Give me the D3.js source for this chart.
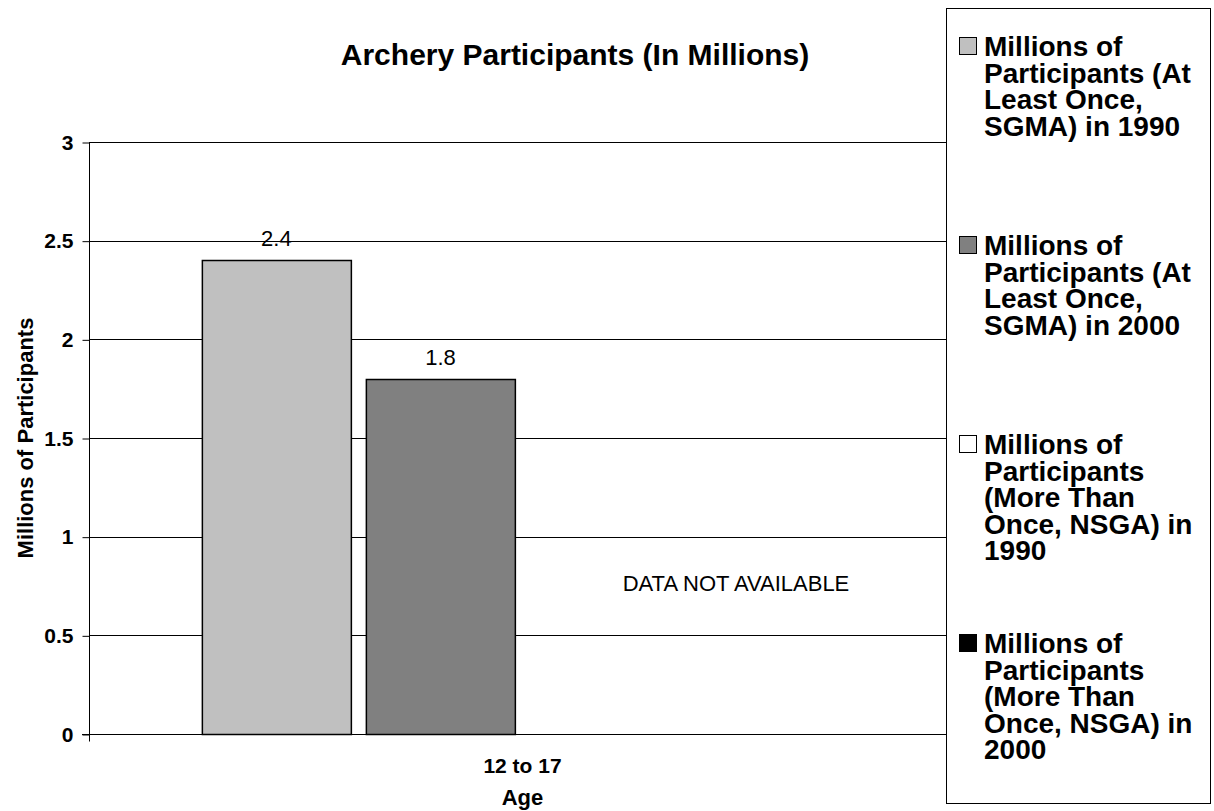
<!DOCTYPE html>
<meta charset="utf-8">
<style>
body { margin: 0; background: #fff; }
svg { display: block; }
text { font-family: Arial, "Liberation Sans", Helvetica, sans-serif; fill: #000; }
.tick-label { font-size: 21px; font-weight: bold; }
.axis-title { font-size: 22px; font-weight: bold; }
.title { font-size: 30px; font-weight: bold; }
.value { font-size: 22px; }
.legend-text { font-size: 28px; font-weight: bold; }
</style>
<svg width="1214" height="811"></svg>
<script src="https://cdn.jsdelivr.net/npm/d3@7"></script>
<script>

// data
var categories = ["12 to 17"];
var seriesNames = [
  "Millions of Participants (At Least Once, SGMA) in 1990",
  "Millions of Participants (At Least Once, SGMA) in 2000",
  "Millions of Participants (More Than Once, NSGA) in 1990",
  "Millions of Participants (More Than Once, NSGA) in 2000"
];
var seriesValues = [2.4, 1.8, null, null];
var seriesColors = ["#c0c0c0", "#808080", "#ffffff", "#000000"];
var legendLines = [
  ["Millions of", "Participants (At", "Least Once,", "SGMA) in 1990"],
  ["Millions of", "Participants (At", "Least Once,", "SGMA) in 2000"],
  ["Millions of", "Participants", "(More Than", "Once, NSGA) in", "1990"],
  ["Millions of", "Participants", "(More Than", "Once, NSGA) in", "2000"]
];
var yTicks = [0, 0.5, 1, 1.5, 2, 2.5, 3];

var svg = d3.select("svg"),
    plot = {left: 89, right: 956, top: 142, bottom: 734};

var y = d3.scaleLinear().domain([0, 3]).range([plot.bottom, plot.top]);

var x0 = d3.scaleBand()
    .domain(categories)
    .range([plot.left, plot.right])
    .paddingInner(0)
    .paddingOuter(0.176);

var x1 = d3.scaleBand()
    .domain(d3.range(seriesNames.length))
    .range([0, x0.bandwidth()])
    .paddingInner(0.0915)
    .paddingOuter(0);

// gridlines
svg.append("g")
  .selectAll("line")
  .data(yTicks.filter(function(d) { return d > 0; }))
  .enter().append("line")
    .attr("x1", plot.left).attr("x2", plot.right)
    .attr("y1", function(d) { return Math.round(y(d)) + 0.5; })
    .attr("y2", function(d) { return Math.round(y(d)) + 0.5; })
    .attr("stroke", "#000").attr("stroke-width", 1);

// y axis
var yAxis = svg.append("g")
    .attr("transform", "translate(" + (plot.left + 0.5) + ",0.5)")
    .call(d3.axisLeft(y).tickValues(yTicks).tickSize(7).tickPadding(9)
      .tickFormat(function(d) { return d; }));
yAxis.select(".domain").attr("stroke", "#000").attr("d", "M0," + Math.round(y(3)) + "V" + Math.round(y(0)));
yAxis.selectAll(".tick line").attr("stroke", "#000");
yAxis.selectAll(".tick text").attr("class", "tick-label").attr("font-family", null).attr("font-size", null);

// x axis
var xAxis = svg.append("g")
    .attr("transform", "translate(0," + (Math.round(y(0)) + 0.5) + ")");
xAxis.append("line")
    .attr("x1", plot.left - 7).attr("x2", plot.right)
    .attr("stroke", "#000");
xAxis.append("line")
    .attr("x1", plot.left + 0.5).attr("x2", plot.left + 0.5)
    .attr("y1", 0).attr("y2", 7)
    .attr("stroke", "#000");
xAxis.selectAll("text.cat")
  .data(categories)
  .enter().append("text")
    .attr("class", "tick-label cat")
    .attr("x", function(d) { return x0(d) + x0.bandwidth() / 2; })
    .attr("y", 38)
    .attr("text-anchor", "middle")
    .text(function(d) { return d; });

// bars
var barData = seriesValues.map(function(v, i) { return {i: i, value: v}; })
    .filter(function(d) { return d.value != null; });

var group = svg.append("g")
    .attr("transform", "translate(" + x0(categories[0]) + ",0)");

group.selectAll("rect")
  .data(barData)
  .enter().append("rect")
    .attr("x", function(d) { return Math.round(x1(d.i)) + 0.5; })
    .attr("y", function(d) { return Math.round(y(d.value)) + 0.5; })
    .attr("width", Math.round(x1.bandwidth()))
    .attr("height", function(d) { return Math.round(y(0)) - Math.round(y(d.value)); })
    .attr("fill", function(d) { return seriesColors[d.i]; })
    .attr("stroke", "#000")
    .attr("stroke-width", 1.5);

group.selectAll("text.value")
  .data(barData)
  .enter().append("text")
    .attr("class", "value")
    .attr("x", function(d) { return x1(d.i) + x1.bandwidth() / 2; })
    .attr("y", function(d) { return y(d.value) - 14; })
    .attr("text-anchor", "middle")
    .text(function(d) { return d.value; });

// note for missing series
svg.append("text")
    .attr("class", "value")
    .attr("x", 736)
    .attr("y", 591)
    .attr("text-anchor", "middle")
    .text("DATA NOT AVAILABLE");

// titles
svg.append("text")
    .attr("class", "title")
    .attr("x", 575).attr("y", 65)
    .attr("text-anchor", "middle")
    .text("Archery Participants (In Millions)");

svg.append("text")
    .attr("class", "axis-title")
    .attr("transform", "translate(33," + ((plot.top + plot.bottom) / 2) + ") rotate(-90)")
    .attr("text-anchor", "middle")
    .text("Millions of Participants");

svg.append("text")
    .attr("class", "axis-title")
    .attr("x", x0(categories[0]) + x0.bandwidth() / 2).attr("y", 805)
    .attr("text-anchor", "middle")
    .text("Age");

// legend
var legend = svg.append("g");
legend.append("rect")
    .attr("x", 946.5).attr("y", 8.5)
    .attr("width", 264).attr("height", 795)
    .attr("fill", "#fff").attr("stroke", "#000");

var item = legend.selectAll("g.item")
  .data(legendLines)
  .enter().append("g")
    .attr("class", "item")
    .attr("transform", function(d, i) { return "translate(0," + (46 + i * 199) + ")"; });

item.append("rect")
    .attr("x", 959.5).attr("y", -8.5)
    .attr("width", 17).attr("height", 17)
    .attr("fill", function(d, i) { return seriesColors[i]; })
    .attr("stroke", "#000");

item.append("text")
    .attr("class", "legend-text")
    .selectAll("tspan")
    .data(function(d) { return d; })
    .enter().append("tspan")
      .attr("x", 984)
      .attr("y", function(d, j) { return 10 + j * 26.5; })
      .text(function(d) { return d; });

</script>
